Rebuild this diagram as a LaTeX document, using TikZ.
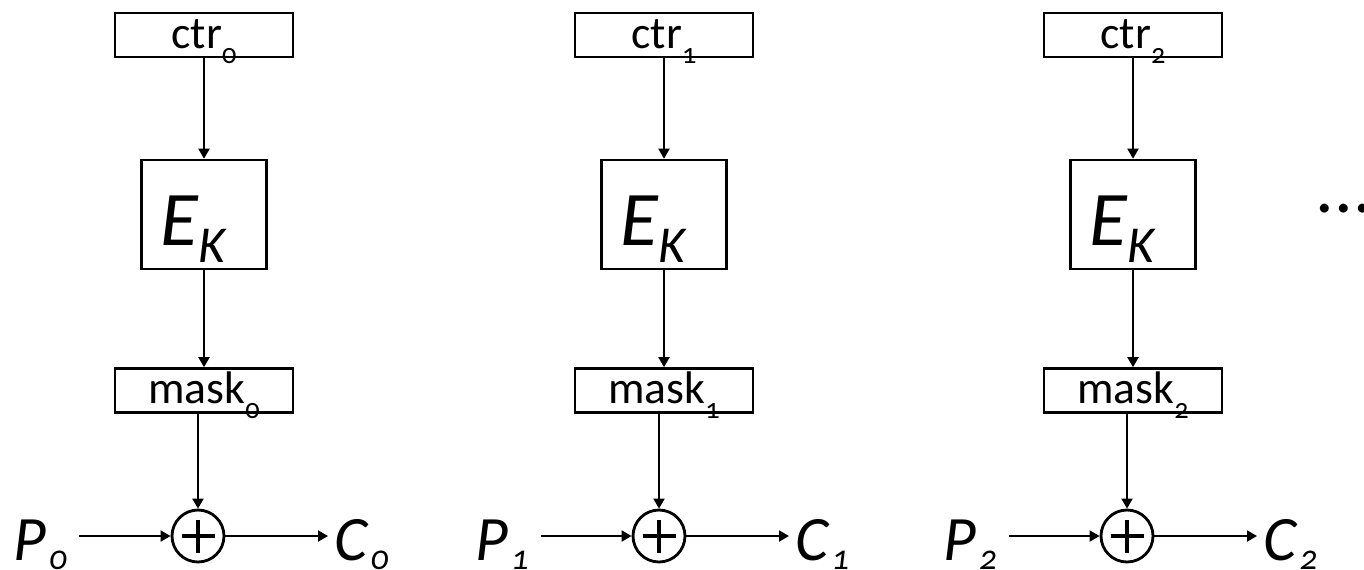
\documentclass[tikz,border=0pt]{standalone}
\usepackage{fontspec}
\setmainfont{Carlito}[Numbers=OldStyle]
\usetikzlibrary{arrows.meta}

\newcommand\lowidx[3][0.33em]{\raisebox{-#1}{\scalebox{#2}{#3}}}

\tikzset{
  regbox/.style={draw, line width=1.5pt, inner sep=0pt, minimum width=3.56cm, minimum height=0.88cm,
    text height=0.52cm, text depth=0cm, font=\fontsize{26}{26}\selectfont},
  cipher/.style={draw, line width=1.5pt, inner sep=0pt, minimum width=2.5cm, minimum height=2.18cm,
    text height=1.22cm, text depth=0cm, font=\fontsize{44}{44}\selectfont\itshape},
  xor/.style={circle, draw, line width=1.6pt, minimum size=1.04cm, inner sep=0pt,
    path picture={\draw[line width=2.2pt]
      ([xshift=-0.33cm]path picture bounding box.center) -- ([xshift=0.33cm]path picture bounding box.center)
      ([yshift=-0.33cm]path picture bounding box.center) -- ([yshift=0.33cm]path picture bounding box.center);}},
  lbl/.style={inner sep=0pt, anchor=base west, font=\fontsize{36}{36}\selectfont\itshape},
}

\begin{document}
\begin{tikzpicture}[x=0.02cm, y=-0.02cm, line width=1.1pt, >={Triangle[length=0.2cm, width=0.22cm]}]
\useasboundingbox (0,0) rectangle (1364,569);
\clip (0,0) rectangle (1364,569);

% first block
\node[regbox] (ctr0) at (204,35) {ctr\lowidx{0.62}{0}};
\node[cipher] (enc0) at (204,214.5) {E\lowidx[0.23em]{0.67}{K}\kern0.45cm};
\node[regbox] (mask0) at (204,390.5) {mask\lowidx{0.62}{0}};
\node[xor] (xor0) at (198,536) {};
\node[lbl] (p0) at (13,560) {P\kern0.05cm\lowidx[0.15em]{0.55}{0}};
\node[lbl] (c0) at (334,560) {C\kern0.05cm\lowidx[0.15em]{0.55}{0}};
\draw [->] (ctr0) -- (enc0); \draw [->] (enc0) -- (mask0);
\draw [->] (mask0.south -| xor0) -- (xor0);
\draw [->, shorten <=0.22cm] (p0.east |- xor0) -- (xor0);
\draw [->, shorten >=0.12cm] (xor0) -- (c0.west |- xor0);

% second block
\node[regbox] (ctr1) at (664,35) {ctr\lowidx{0.62}{1}};
\node[cipher] (enc1) at (664,214.5) {E\lowidx[0.23em]{0.67}{K}\kern0.45cm};
\node[regbox] (mask1) at (664,390.5) {mask\lowidx{0.62}{1}};
\node[xor] (xor1) at (659,536) {};
\node[lbl] (p1) at (475,560) {P\kern0.05cm\lowidx[0.15em]{0.55}{1}};
\node[lbl] (c1) at (795,560) {C\kern0.05cm\lowidx[0.15em]{0.55}{1}};
\draw [->] (ctr1) -- (enc1); \draw [->] (enc1) -- (mask1);
\draw [->] (mask1.south -| xor1) -- (xor1);
\draw [->, shorten <=0.22cm] (p1.east |- xor1) -- (xor1);
\draw [->, shorten >=0.12cm] (xor1) -- (c1.west |- xor1);

% third block
\node[regbox] (ctr2) at (1133,35) {ctr\lowidx{0.62}{2}};
\node[cipher] (enc2) at (1133,214.5) {E\lowidx[0.23em]{0.67}{K}\kern0.45cm};
\node[regbox] (mask2) at (1133,390.5) {mask\lowidx{0.62}{2}};
\node[xor] (xor2) at (1127,536) {};
\node[lbl] (p2) at (943,560) {P\kern0.05cm\lowidx[0.15em]{0.55}{2}};
\node[lbl] (c2) at (1263,560) {C\kern0.05cm\lowidx[0.15em]{0.55}{2}};
\draw [->] (ctr2) -- (enc2); \draw [->] (enc2) -- (mask2);
\draw [->] (mask2.south -| xor2) -- (xor2);
\draw [->, shorten <=0.22cm] (p2.east |- xor2) -- (xor2);
\draw [->, shorten >=0.12cm] (xor2) -- (c2.west |- xor2);

% more blocks follow
\node[inner sep=0pt, anchor=base west, font=\fontsize{42}{42}\selectfont] (more) at (1315,212.5) {...};
\end{tikzpicture}
\end{document}
